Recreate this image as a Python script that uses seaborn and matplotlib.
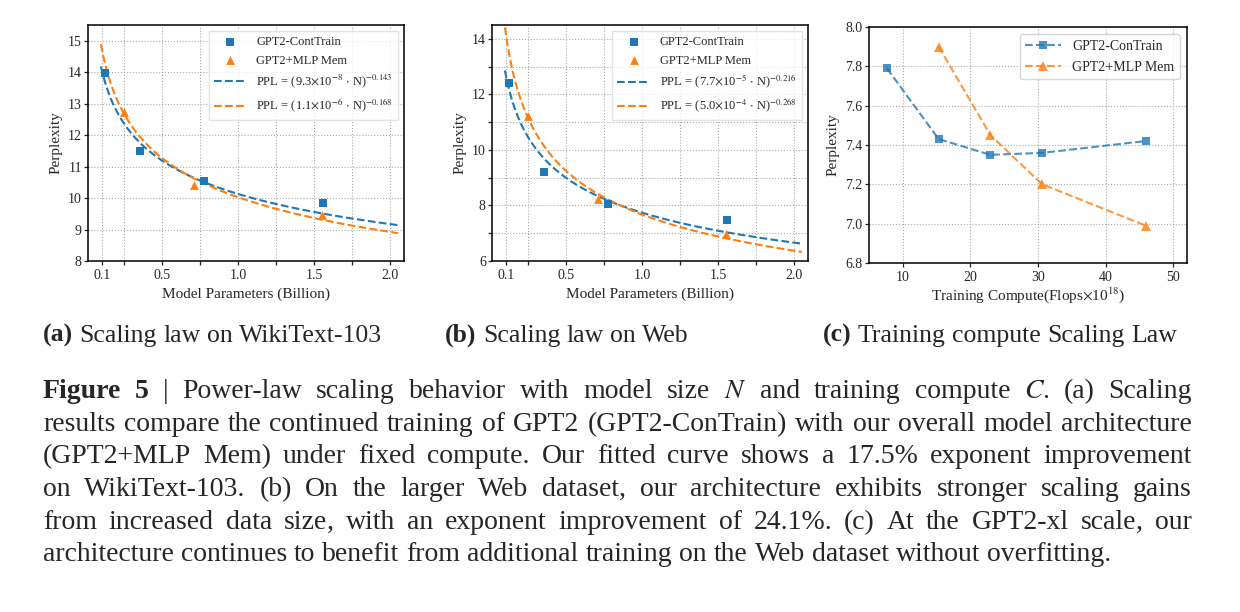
import matplotlib
matplotlib.use("Agg")
import numpy as np
import matplotlib.pyplot as plt
import seaborn as sns
from matplotlib.ticker import FixedLocator, FormatStrFormatter

#%% data
params_ct = [0.124, 0.355, 0.774, 1.558]       # GPT2 sizes (billion)
params_mem = [0.25, 0.71, 1.55]
wiki_ct = [13.96, 11.50, 10.55, 9.83]
wiki_mem = [12.72, 10.40, 9.47]
web_ct = [12.42, 9.21, 8.06, 7.46]
web_mem = [11.21, 8.22, 6.96]

# fitted power laws PPL = (a * N)^(-b), N in billion
fit_wiki_ct = (9.3e-8, 0.143)
fit_wiki_mem = (1.1e-6, 0.168)
fit_web_ct = (7.7e-5, 0.216)
fit_web_mem = (5.0e-4, 0.268)

compute_ct = [7.65, 15.3, 22.95, 30.6, 45.9]
compute_mem = [15.3, 22.95, 30.6, 45.9]
ppl_ct = [7.79, 7.43, 7.35, 7.36, 7.42]
ppl_mem = [7.90, 7.45, 7.20, 6.99]

subcaptions = [("(a)", "Scaling law on WikiText-103"),
               ("(b)", "Scaling law on Web"),
               ("(c)", "Training compute Scaling Law")]

caption_lines = [
    "Figure 5 | Power-law scaling behavior with model size $N$ and training compute $C$. (a) Scaling",
    "results compare the continued training of GPT2 (GPT2-ConTrain) with our overall model architecture",
    "(GPT2+MLP Mem) under fixed compute. Our fitted curve shows a 17.5% exponent improvement",
    "on WikiText-103. (b) On the larger Web dataset, our architecture exhibits stronger scaling gains",
    "from increased data size, with an exponent improvement of 24.1%. (c) At the GPT2-xl scale, our",
    "architecture continues to benefit from additional training on the Web dataset without overfitting.",
]

#%% style
sns.set_style("ticks")
plt.rcParams["font.family"] = ["Liberation Serif", "DejaVu Serif"]
plt.rcParams["mathtext.fontset"] = "stix"
plt.rcParams["axes.linewidth"] = 1.1
plt.rcParams["axes.edgecolor"] = "black"

BLUE = "#1f77b4"
ORANGE = "#ff7f0e"
W, H = 1240, 612

fig = plt.figure(figsize=(12.4, 6.12), dpi=100)


def px_axes(l, t, r, b):
    return fig.add_axes([l / W, 1 - b / H, (r - l) / W, (b - t) / H])


def fit_label(a, b):
    m, e = f"{a:.1e}".split("e")
    return f"PPL = ({m}$\\times$10$^{{{int(e)}}}$ $\\cdot$ N)$^{{-{b}}}$"


def style_ticks(ax):
    ax.tick_params(which="both", length=3, width=0.9, labelsize=10)
    ax.tick_params(axis="x", which="both", pad=2.5)
    ax.tick_params(axis="y", which="both", pad=1.5)


def size_panel(ax, xs_ct, ys_ct, xs_mem, ys_mem, fit_ct, fit_mem, ylim, yticks, yminor):
    sns.scatterplot(x=xs_ct, y=ys_ct, ax=ax, marker="s", s=32, color=BLUE,
                    linewidth=0, label="GPT2-ContTrain", zorder=3)
    sns.scatterplot(x=xs_mem, y=ys_mem, ax=ax, marker="^", s=40, color=ORANGE,
                    linewidth=0, label="GPT2+MLP Mem", zorder=3)
    n = np.linspace(0.095, 2.05, 300)
    for (a, b), col in [(fit_ct, BLUE), (fit_mem, ORANGE)]:
        sns.lineplot(x=n, y=(a * n) ** (-b), ax=ax, color=col, linestyle="--",
                     linewidth=1.5, label=fit_label(a, b), zorder=2)
    ax.set_xlim(0.01, 2.09)
    ax.set_ylim(*ylim)
    ax.set_xticks([0.1, 0.5, 1.0, 1.5, 2.0])
    ax.set_xticklabels(["0.1", "0.5", "1.0", "1.5", "2.0"])
    ax.xaxis.set_minor_locator(FixedLocator([0.25, 0.75, 1.25, 1.75]))
    ax.set_yticks(yticks)
    ax.yaxis.set_minor_locator(FixedLocator(yminor))
    ax.grid(True, which="both", linestyle=":", color="#aaaaaa", linewidth=0.8)
    ax.set_xlabel("Model Parameters (Billion)", fontsize=11)
    ax.set_ylabel("Perplexity", fontsize=11)
    style_ticks(ax)
    ax.legend(loc="upper right", fontsize=9, handlelength=2.6, framealpha=0.8,
              edgecolor="#dddddd", fancybox=False)


#%% panels (a) and (b)
ax_a = px_axes(88, 25, 404, 261)
size_panel(ax_a, params_ct, wiki_ct, params_mem, wiki_mem, fit_wiki_ct, fit_wiki_mem,
           (8, 15.5), list(range(8, 16)), [])

ax_b = px_axes(492, 25, 808, 261)
size_panel(ax_b, params_ct, web_ct, params_mem, web_mem, fit_web_ct, fit_web_mem,
           (6, 14.5), [6, 8, 10, 12, 14], [7, 9, 11, 13])

#%% panel (c)
ax_c = px_axes(869, 27, 1187, 263)
sns.lineplot(x=compute_ct, y=ppl_ct, ax=ax_c, color=BLUE, linestyle="--", linewidth=1.5,
             marker="s", markersize=6, markeredgewidth=0, label="GPT2-ConTrain")
sns.lineplot(x=compute_mem, y=ppl_mem, ax=ax_c, color=ORANGE, linestyle="--", linewidth=1.5,
             marker="^", markersize=6.5, markeredgewidth=0, label="GPT2+MLP Mem")
for ln in ax_c.lines:
    ln.set_color((*matplotlib.colors.to_rgb(ln.get_markerfacecolor()), 0.8))
ax_c.set_xlim(5, 52)
ax_c.set_ylim(6.8, 8.0)
ax_c.set_xticks([10, 20, 30, 40, 50])
ax_c.set_yticks(np.arange(6.8, 8.01, 0.2))
ax_c.yaxis.set_major_formatter(FormatStrFormatter("%.1f"))
ax_c.grid(True, linestyle=":", color="#aaaaaa", linewidth=0.8)
ax_c.set_xlabel("Training Compute(Flops$\\times$10$^{18}$)", fontsize=11, labelpad=1)
ax_c.set_ylabel("Perplexity", fontsize=11)
style_ticks(ax_c)
ax_c.legend(loc="upper right", fontsize=10, handlelength=2.6, framealpha=0.8,
            labelspacing=0.6)

#%% captions, laid out word by word so the block can be justified
renderer = fig.canvas.get_renderer()


def tokenize(line, bold_first=0):
    toks = []
    for j, w in enumerate(line.split()):
        wt = "bold" if j < bold_first else "normal"
        if w.endswith(",") and len(w) > 1:
            toks.append((w[:-1], wt, False))
            toks.append((",", wt, True))      # glued to the word before
        else:
            toks.append((w, wt, False))
    return toks


def place_words(toks, x0, y, size, x1=None):
    texts = [fig.text(0, 1 - y / H, s, fontsize=size, fontweight=wt, va="baseline", ha="left")
             for s, wt, _ in toks]
    widths = [t.get_window_extent(renderer).width for t in texts]
    n_gaps = sum(1 for _, _, glue in toks[1:] if not glue)
    space = 0.25 * size * 100 / 72
    gap = space if x1 is None else (x1 - x0 - sum(widths)) / n_gaps
    x = x0
    for k, (t, w) in enumerate(zip(texts, widths)):
        if k > 0 and not toks[k][2]:
            x += gap
        t.set_x(x / W)
        x += w


for (tag, rest), x0 in zip(subcaptions, [43, 445, 823]):
    place_words(tokenize(tag + " " + rest, bold_first=1), x0, 342, 18.5)

baselines = [398, 431, 463, 496, 529, 561]
cap_size = 20
for i, (line, y) in enumerate(zip(caption_lines, baselines)):
    last = i == len(caption_lines) - 1
    place_words(tokenize(line, bold_first=2 if i == 0 else 0), 43, y, cap_size,
                None if last else 1192)

fig.savefig("out.png", dpi=100)
